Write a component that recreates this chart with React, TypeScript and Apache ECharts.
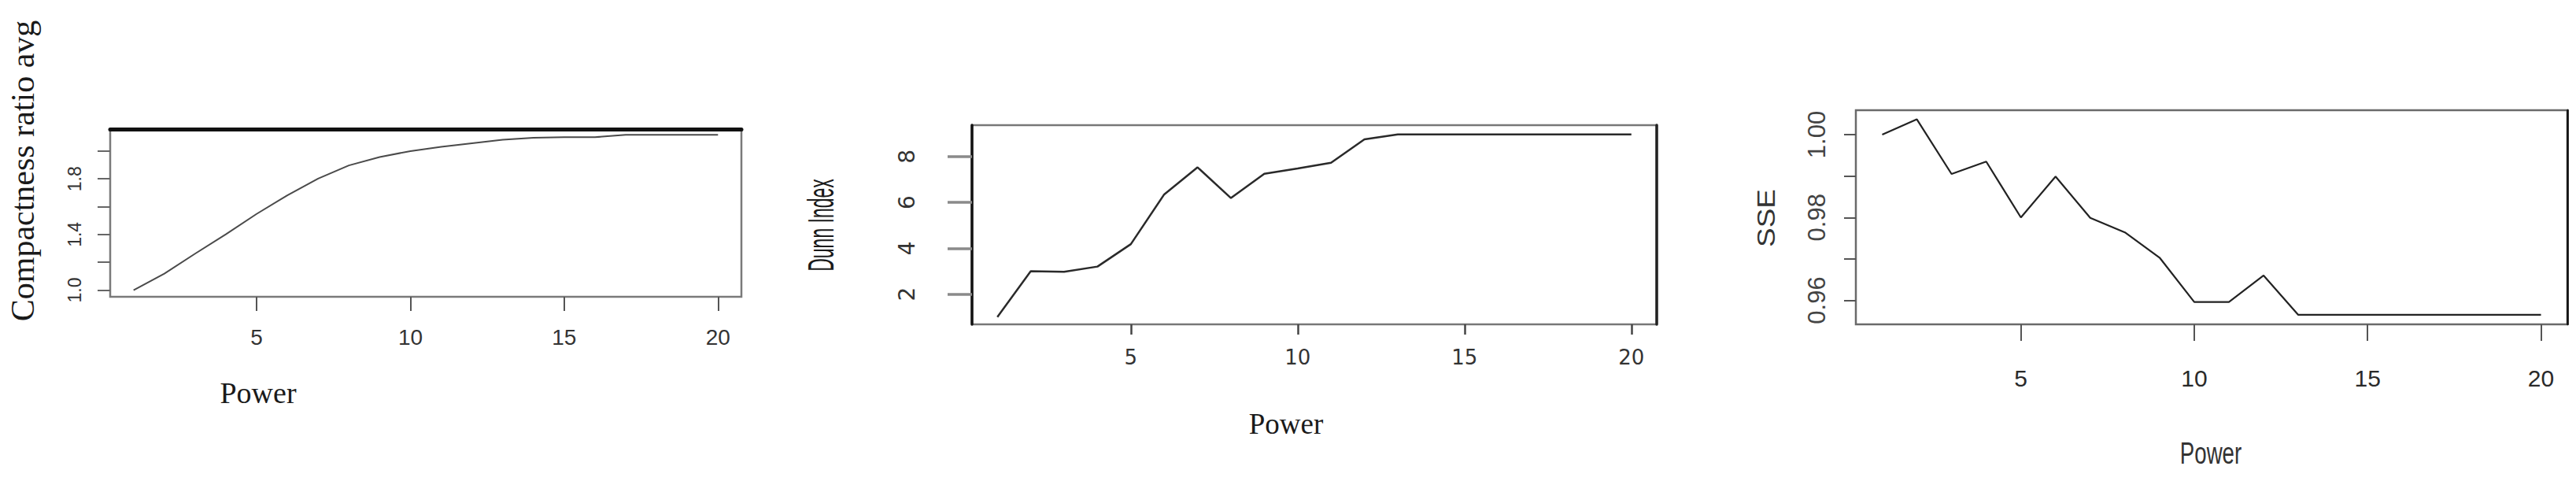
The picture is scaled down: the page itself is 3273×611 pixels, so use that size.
import React, { useEffect, useRef } from "react";
import * as echarts from "echarts";

// ---------------- data ----------------
const powers = [1, 2, 3, 4, 5, 6, 7, 8, 9, 10, 11, 12, 13, 14, 15, 16, 17, 18, 19, 20];
const compactness = [1.0, 1.118, 1.262, 1.401, 1.548, 1.682, 1.802, 1.897, 1.957, 2.0, 2.03, 2.056, 2.081, 2.096, 2.1, 2.1, 2.117, 2.117, 2.117, 2.117];
const dunn = [1.0, 3.0, 2.97, 3.2, 4.18, 6.35, 7.53, 6.19, 7.25, 7.48, 7.73, 8.75, 8.97, 8.97, 8.97, 8.97, 8.97, 8.97, 8.97, 8.97];
const sse = [1.0, 1.0037, 0.9905, 0.9935, 0.98, 0.9899, 0.9799, 0.9764, 0.9703, 0.9596, 0.9596, 0.966, 0.9565, 0.9565, 0.9565, 0.9565, 0.9565, 0.9565, 0.9565, 0.9565];

const xTicks = [5, 10, 15, 20];
const compactTicks = [1.0, 1.2, 1.4, 1.6, 1.8, 2.0];
const compactLabels = [1.0, 1.4, 1.8];
const dunnTicks = [2, 4, 6, 8];
const sseTicks = [0.96, 0.97, 0.98, 0.99, 1.0];
const sseLabels = [0.96, 0.98, 1.0];

const titles = {
  compact: "Compactness ratio avg",
  dunn: "Dunn Index",
  sse: "SSE",
  power: "Power",
};

// ---------------- styling ----------------
const SANS = "'Liberation Sans', Arial, sans-serif";
const SERIF = "'Liberation Serif', 'Times New Roman', serif";
const WIDE = "'DejaVu Sans', sans-serif";

const X_MIN = 0.24;
const X_MAX = 20.76;

function mainX(gridIndex: number, o: any) {
  return {
    type: "value",
    gridIndex,
    position: "bottom",
    min: X_MIN,
    max: X_MAX,
    axisLine: { show: false, onZero: false },
    splitLine: { show: false },
    axisTick: {
      show: true,
      inside: false,
      customValues: xTicks,
      length: o.tickLen,
      lineStyle: { color: o.tickColor, width: o.tickWidth },
    },
    axisLabel: {
      customValues: xTicks,
      margin: o.margin,
      fontSize: o.fontSize,
      fontFamily: o.fontFamily,
      color: o.color,
    },
  };
}

function mainY(gridIndex: number, o: any) {
  return {
    type: "value",
    gridIndex,
    position: "left",
    min: o.min,
    max: o.max,
    axisLine: o.axisLine || { show: false, onZero: false },
    splitLine: { show: false },
    axisTick: {
      show: true,
      inside: false,
      customValues: o.ticks,
      length: o.tickLen,
      lineStyle: { color: o.tickColor, width: o.tickWidth },
    },
    axisLabel: {
      customValues: o.labels,
      rotate: 90,
      margin: o.margin,
      fontSize: o.fontSize,
      fontFamily: o.fontFamily,
      color: o.color,
      formatter: (v: number) => v.toFixed(o.digits),
    },
  };
}

function lineOnly(gridIndex: number, position: string, min: number, max: number, color: string, width: number) {
  return {
    type: "value",
    gridIndex,
    position,
    min,
    max,
    axisLine: { show: true, onZero: false, lineStyle: { color, width } },
    axisTick: { show: false },
    axisLabel: { show: false },
    splitLine: { show: false },
  };
}

function txt(text: string, x: number, y: number, size: number, family: string, rot: number, sx = 1, sy = 1, color = "#1a1a1a") {
  return {
    type: "text",
    x,
    y,
    rotation: rot,
    scaleX: sx,
    scaleY: sy,
    silent: true,
    style: {
      text,
      fontSize: size,
      fontFamily: family,
      fill: color,
      align: "center",
      verticalAlign: "middle",
      textAlign: "center",
      textVerticalAlign: "middle",
    },
  };
}

export default function App() {
  const ref = useRef<HTMLDivElement>(null);

  useEffect(() => {
    if (!ref.current) return;
    const chart = echarts.init(ref.current, null, { renderer: "svg" });

    const option: any = {
      animation: false,
      backgroundColor: "#ffffff",
      grid: [
        { left: 140, top: 164, width: 802, height: 213, show: true, borderColor: "#7a7a7a", borderWidth: 2.5, backgroundColor: "transparent" },
        { left: 1235, top: 159, width: 870, height: 253, show: true, borderColor: "#777777", borderWidth: 2.5, backgroundColor: "transparent" },
        { left: 2358, top: 140, width: 904, height: 272, show: true, borderColor: "#6a6a6a", borderWidth: 2.5, backgroundColor: "transparent" },
      ],
      xAxis: [
        mainX(0, { tickLen: 18, tickColor: "#555", tickWidth: 2, margin: 37, fontSize: 28, fontFamily: SANS, color: "#333" }),
        mainX(1, { tickLen: 13, tickColor: "#444", tickWidth: 2.5, margin: 29, fontSize: 26, fontFamily: WIDE, color: "#333" }),
        mainX(2, { tickLen: 21, tickColor: "#555", tickWidth: 2, margin: 53, fontSize: 30, fontFamily: SANS, color: "#2a2a2a" }),
        lineOnly(0, "top", X_MIN, X_MAX, "#111111", 5),
      ],
      yAxis: [
        mainY(0, { min: 0.952, max: 2.158, ticks: compactTicks, labels: compactLabels, tickLen: 16, tickColor: "#666", tickWidth: 2, margin: 34, fontSize: 23, fontFamily: SANS, color: "#333", digits: 1 }),
        mainY(1, { min: 0.68, max: 9.37, ticks: dunnTicks, labels: dunnTicks, tickLen: 31, tickColor: "#8a8a8a", tickWidth: 3.5, margin: 69, fontSize: 28, fontFamily: WIDE, color: "#333", digits: 0, axisLine: { show: true, onZero: false, lineStyle: { color: "#111", width: 3.5 } } }),
        mainY(2, { min: 0.9542, max: 1.0059, ticks: sseTicks, labels: sseLabels, tickLen: 15, tickColor: "#555", tickWidth: 2, margin: 34, fontSize: 31, fontFamily: SANS, color: "#444", digits: 2 }),
        lineOnly(1, "right", 0.68, 9.37, "#222222", 3.5),
        lineOnly(2, "right", 0.9542, 1.0059, "#111111", 2.7),
      ],
      series: [
        {
          type: "line",
          xAxisIndex: 0,
          yAxisIndex: 0,
          showSymbol: false,
          data: powers.map((p, i) => [p, compactness[i]]),
          lineStyle: { color: "#4a4a4a", width: 2 },
        },
        {
          type: "line",
          xAxisIndex: 1,
          yAxisIndex: 1,
          showSymbol: false,
          data: powers.map((p, i) => [p, dunn[i]]),
          lineStyle: { color: "#2a2a2a", width: 2.5 },
        },
        {
          type: "line",
          xAxisIndex: 2,
          yAxisIndex: 2,
          showSymbol: false,
          data: powers.map((p, i) => [p, sse[i]]),
          lineStyle: { color: "#222222", width: 2.2 },
        },
      ],
      graphic: [
        txt(titles.compact, 28.7, 217, 42, SERIF, Math.PI / 2),
        txt(titles.power, 328, 499, 38, SERIF, 0),
        txt(titles.dunn, 1043, 286, 23, SANS, Math.PI / 2, 1, 2),
        txt(titles.power, 1634, 538, 37, SERIF, 0),
        txt(titles.sse, 2244, 277, 37, SANS, Math.PI / 2, 1, 0.83, "#333"),
        txt(titles.power, 2809, 575, 39, SANS, 0, 0.71, 1, "#333"),
      ],
    };

    chart.setOption(option);
    return () => {
      chart.dispose();
    };
  }, []);

  return (
    <div
      ref={ref}
      style={{ position: "absolute", left: 0, top: 0, width: 3273, height: 611, background: "#fff" }}
    />
  );
}
